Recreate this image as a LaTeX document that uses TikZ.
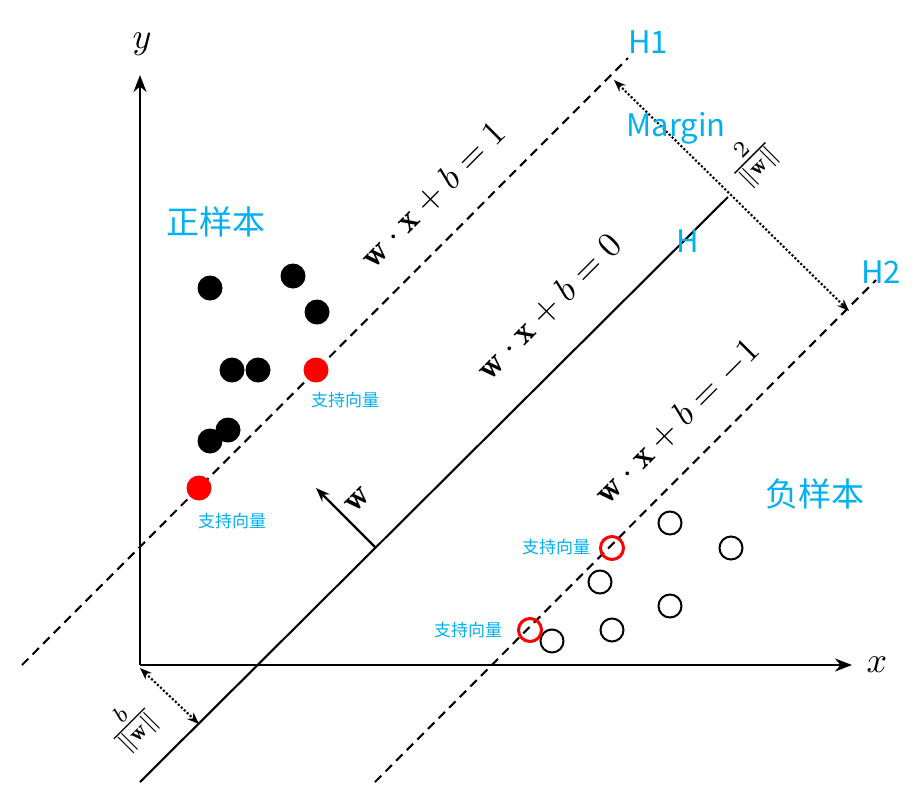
\documentclass[tikz,border=0pt]{standalone}
\usepackage{fontspec}
\usepackage{amsmath}
\usepackage{graphicx}
\newfontfamily\cjk{Noto Sans CJK SC}
\usetikzlibrary{arrows.meta}
\definecolor{cy}{RGB}{0,176,240}
\newcommand{\svmbig}[2]{\scalebox{#1}{$#2$}}
\begin{document}
\begin{tikzpicture}[x=1pt,y=-1pt,
  ax/.style={line width=2.6pt,-{Stealth[length=17pt,width=13pt]}},
  dsh/.style={line width=2.1pt,dash pattern=on 9pt off 6pt},
  pospt/.style={circle,fill=black,minimum size=25pt,inner sep=0pt},
  rpospt/.style={circle,fill=red,minimum size=25pt,inner sep=0pt},
  negpt/.style={circle,draw=black,line width=2pt,minimum size=23pt,inner sep=0pt},
  rnegpt/.style={circle,draw=red,line width=3pt,minimum size=23pt,inner sep=0pt},
  lbl/.style={text=cy,font=\cjk\fontsize{31}{33}\selectfont},
  big/.style={text=cy,font=\cjk\fontsize{33}{35}\selectfont},
  sv/.style={text=cy,font=\cjk\fontsize{17}{18}\selectfont},
  eq/.style={rotate=45,inner sep=0pt},
  dot/.style={line width=2.1pt,dotted,{Stealth[length=12pt]}-{Stealth[length=12pt]}}]
\useasboundingbox (0,0) rectangle (922,812);
\coordinate (O) at (140,665);
\coordinate (Y) at (140,75);
\coordinate (X) at (852,665);
\draw[ax] (O) -- (Y);
\draw[ax] (O) -- (X);
\node (ly) at (142,44) {\svmbig{3.6}{y}};
\node (lx) at (877,665) {\svmbig{3.6}{x}};
% lines
\coordinate (h0a) at (140,782); \coordinate (h0b) at (728,197);
\coordinate (h1a) at (22,665); \coordinate (h1b) at (628,58);
\coordinate (h2a) at (375,782); \coordinate (h2b) at (876,280);
\draw[line width=2.1pt] (h0a) -- (h0b);
\draw[dsh] (h1a) -- (h1b);
\draw[dsh] (h2a) -- (h2b);
\node[eq] (e1) at (433,195) {\svmbig{3.5}{\mathbf{w}\cdot\mathbf{x}+b=1}};
\node[eq] (e0) at (549,307) {\svmbig{3.5}{\mathbf{w}\cdot\mathbf{x}+b=0}};
\node[eq] (e2) at (677,422) {\svmbig{3.5}{\mathbf{w}\cdot\mathbf{x}+b=-1}};
% w arrow
\coordinate (wa) at (375,547); \coordinate (wb) at (316,488);
\draw[line width=2.3pt,-{Stealth[length=14pt]}] (wa) -- (wb);
\node[eq] (wl) at (358,500) {\svmbig{3.5}{\mathbf{w}}};
% margin
\coordinate (m1) at (614,80); \coordinate (m2) at (849,311);
\draw[dot] (m1) -- (m2);
\node[eq] (ml) at (752,160) {\svmbig{3.3}{\frac{2}{\|\mathbf{w}\|}}};
\coordinate (b1) at (140,668); \coordinate (b2) at (199,724);
\draw[dot] (b1) -- (b2);
\node[eq] (bl) at (131,725) {\svmbig{3.3}{\frac{b}{\|\mathbf{w}\|}}};
% labels
\node[lbl] (H1) at (648,42) {H1};
\node[lbl] (Mg) at (676,128) {Margin};
\node[lbl] (H) at (688,241) {H};
\node[lbl] (H2) at (881,272) {H2};
\node[big] (zs) at (216,222) {正样本};
\node[big] (fs) at (815,494) {负样本};
\node[sv] (s1) at (345,400) {支持向量};
\node[sv] (s2) at (232,521) {支持向量};
\node[sv] (s3) at (556,547) {支持向量};
\node[sv] (s4) at (468,630) {支持向量};
% points
\node[pospt] (p1) at (210,288) {};
\node[pospt] (p2) at (293,276) {};
\node[pospt] (p3) at (317,312) {};
\node[pospt] (p4) at (232,370) {};
\node[pospt] (p5) at (258,370) {};
\node[pospt] (p6) at (210,441) {};
\node[pospt] (p7) at (228,430) {};
\node[rpospt] (r1) at (316,370) {};
\node[rpospt] (r2) at (199,488) {};
\node[negpt] (n1) at (670,523) {};
\node[negpt] (n2) at (731,548) {};
\node[negpt] (n3) at (600,582) {};
\node[negpt] (n4) at (670,606) {};
\node[negpt] (n5) at (612,630) {};
\node[negpt] (n6) at (552,641) {};
\node[rnegpt] (q1) at (612,548) {};
\node[rnegpt] (q2) at (530,630) {};
\end{tikzpicture}
\end{document}
